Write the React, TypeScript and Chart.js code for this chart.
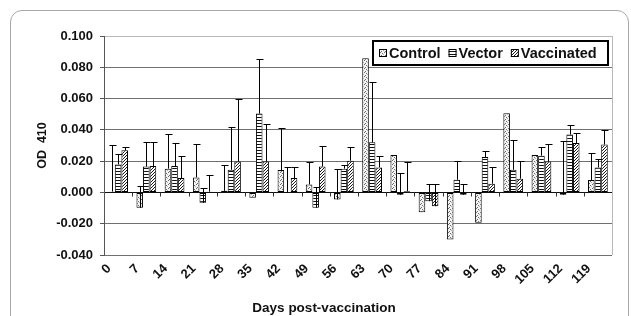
import React, { useEffect, useRef } from 'react';
import { Chart, registerables } from 'chart.js';

Chart.register(...registerables);

const days = ['0', '7', '14', '21', '28', '35', '42', '49', '56', '63', '70', '77', '84', '91', '98', '105', '112', '119'];

const seriesNames = ['Control', 'Vector', 'Vaccinated'];

const control = [0.0005, -0.0098, 0.0152, 0.0096, 0.001, -0.0034, 0.0143, 0.0051, -0.0045, 0.0857, 0.0239, -0.0126, -0.0301, -0.0194, 0.0506, 0.0239, -0.0015, 0.0079];
const controlErr = [0.0298, 0.0138, 0.0224, 0.0212, 0.0165, 0, 0.0272, 0.0143, 0.0192, 0, 0, 0, 0, 0, 0, 0, 0.0344, 0.0175];

const vector = [0.0179, 0.0165, 0.0169, -0.0066, 0.0145, 0.0504, -0.0003, -0.0098, 0.0152, 0.032, -0.0015, -0.0056, 0.0081, 0.0226, 0.0145, 0.0235, 0.037, 0.016];
const vectorErr = [0.0069, 0.0158, 0.0149, 0.0096, 0.0275, 0.0346, 0.0168, 0.0134, 0.0023, 0.0387, 0.0141, 0.0112, 0.0122, 0.0037, 0.019, 0.0058, 0.0064, 0.0054];

const vaccinated = [0.0269, 0.0169, 0.0092, 0.0005, 0.0197, 0.0197, 0.0092, 0.0165, 0.0203, 0.016, 0.0008, -0.0088, -0.0015, 0.0056, 0.0088, 0.0197, 0.0316, 0.0306];
const vaccinatedErr = [0.0024, 0.0154, 0.0139, 0.0104, 0.0403, 0.0239, 0.0068, 0.0132, 0.009, 0.0075, 0.0189, 0.0139, 0.0071, 0.0109, 0.0115, 0.0111, 0.0067, 0.0091];

const yTicksMin = -0.04;
const yTicksMax = 0.1;
const yTicksStep = 0.02;

const xTitle = 'Days post-vaccination';
const yTitle = 'OD  410';

const FONT = '"Liberation Sans", Arial, sans-serif';

function makePattern(kind: string): CanvasPattern | string {
  const c = document.createElement('canvas');
  const g = c.getContext('2d');
  if (!g) return '#ccc';
  if (kind === 'dots') {
    c.width = 4; c.height = 4;
    g.fillStyle = '#f4f4f4';
    g.fillRect(0, 0, 4, 4);
    g.fillStyle = '#6a6a6a';
    g.fillRect(0, 0, 1, 1);
    g.fillRect(2, 1, 1, 1);
    g.fillRect(1, 3, 1, 1);
    g.fillStyle = '#b0b0b0';
    g.fillRect(3, 2, 1, 1);
  } else if (kind === 'hlines') {
    c.width = 4; c.height = 3;
    g.fillStyle = '#ffffff';
    g.fillRect(0, 0, 4, 3);
    g.fillStyle = '#111111';
    g.fillRect(0, 0, 4, 1);
  } else {
    c.width = 3; c.height = 3;
    g.fillStyle = '#ffffff';
    g.fillRect(0, 0, 3, 3);
    g.fillStyle = '#1a1a1a';
    g.fillRect(2, 0, 1, 1);
    g.fillRect(1, 1, 1, 1);
    g.fillRect(0, 2, 1, 1);
  }
  const p = g.createPattern(c, 'repeat');
  return p || '#ccc';
}

const decorPlugin = {
  id: 'decor',
  afterDatasetsDraw(chart: any) {
    const { ctx, chartArea, scales } = chart;
    const ys = scales.y;
    const xs = scales.x;
    ctx.save();
    ctx.lineWidth = 1;
    // plot area right border
    ctx.strokeStyle = '#b8b8b8';
    const rx = Math.round(chartArea.right) + 0.5;
    ctx.beginPath();
    ctx.moveTo(rx, chartArea.top);
    ctx.lineTo(rx, chartArea.bottom);
    ctx.stroke();
    // category tick marks on zero line
    const y0 = Math.round(ys.getPixelForValue(0)) + 0.5;
    ctx.strokeStyle = '#333';
    for (let i = 1; i < chart.data.labels.length; i++) {
      const xb = Math.round((xs.getPixelForValue(i - 1) + xs.getPixelForValue(i)) / 2) + 0.5;
      ctx.beginPath();
      ctx.moveTo(xb, y0);
      ctx.lineTo(xb, y0 + 4);
      ctx.stroke();
    }
    // error bars
    ctx.strokeStyle = '#000';
    chart.data.datasets.forEach((ds: any, di: number) => {
      const meta = chart.getDatasetMeta(di);
      const errs: number[] = ds.errorBars || [];
      meta.data.forEach((bar: any, i: number) => {
        const e = errs[i];
        if (!e) return;
        const v = ds.data[i];
        const px = Math.round(bar.x) + 0.5;
        const yTop = Math.round(ys.getPixelForValue(v + e)) + 0.5;
        const yBase = ys.getPixelForValue(v);
        ctx.beginPath();
        ctx.moveTo(px, yBase);
        ctx.lineTo(px, yTop);
        ctx.moveTo(px - 3, yTop);
        ctx.lineTo(px + 4, yTop);
        ctx.stroke();
      });
    });
    ctx.restore();
  },
  afterDraw(chart: any) {
    const { ctx, chartArea } = chart;
    ctx.save();
    // legend
    const boxR = chartArea.right - 4;
    const boxL = boxR - 235;
    const boxT = chartArea.top + 5;
    const boxH = 24;
    ctx.fillStyle = '#fff';
    ctx.fillRect(boxL, boxT, boxR - boxL, boxH);
    ctx.strokeStyle = '#000';
    ctx.lineWidth = 2;
    ctx.strokeRect(boxL, boxT, boxR - boxL, boxH);
    ctx.font = 'bold 14.5px ' + FONT;
    ctx.textBaseline = 'middle';
    ctx.textAlign = 'left';
    let cx = boxL + 6;
    const cy = boxT + boxH / 2;
    chart.data.datasets.forEach((ds: any) => {
      ctx.fillStyle = ds.backgroundColor;
      ctx.fillRect(cx, cy - 4, 8, 8);
      ctx.lineWidth = 1;
      ctx.strokeStyle = '#000';
      ctx.strokeRect(cx + 0.5, cy - 3.5, 7, 7);
      cx += 10;
      ctx.fillStyle = '#111';
      ctx.fillText(ds.label, cx, cy + 1);
      cx += ctx.measureText(ds.label).width + 8;
    });
    // x-axis title
    ctx.font = 'bold 13.5px ' + FONT;
    ctx.textAlign = 'center';
    ctx.fillStyle = '#111';
    ctx.fillText(xTitle, 324, 308);
    ctx.restore();
  },
};

export default function App() {
  const ref = useRef<HTMLCanvasElement | null>(null);

  useEffect(() => {
    if (!ref.current) return;
    const patterns = [makePattern('dots'), makePattern('hlines'), makePattern('diag')];
    const values = [control, vector, vaccinated];
    const errs = [controlErr, vectorErr, vaccinatedErr];
    const chart = new Chart(ref.current, {
      type: 'bar',
      data: {
        labels: days,
        datasets: seriesNames.map((name, i) => ({
          label: name,
          data: values[i],
          errorBars: errs[i],
          backgroundColor: patterns[i],
          borderColor: '#000',
          borderWidth: 1,
          borderSkipped: false,
          barPercentage: 1,
          categoryPercentage: 0.7,
        })) as any,
      },
      options: {
        responsive: false,
        animation: false,
        layout: { padding: { left: 16, right: 19, top: 36, bottom: 0 } },
        plugins: {
          legend: { display: false },
          tooltip: { enabled: false },
          title: { display: false },
        },
        scales: {
          x: {
            grid: { display: false, drawTicks: false },
            border: { display: false },
            ticks: {
              autoSkip: false,
              maxRotation: 45,
              minRotation: 45,
              padding: 6,
              labelOffset: -9,
              color: '#111',
              font: { family: FONT, size: 13, weight: 'bold' },
            },
            afterFit: (scale: any) => {
              scale.height = 61;
            },
          },
          y: {
            min: yTicksMin,
            max: yTicksMax,
            ticks: {
              stepSize: yTicksStep,
              padding: 7,
              color: '#111',
              font: { family: FONT, size: 13, weight: 'bold' },
              callback: (v: any) => Number(v).toFixed(3),
            },
            grid: {
              color: (c: any) => {
                const v = c.tick ? c.tick.value : 0;
                if (Math.abs(v) < 1e-9) return '#111';
                if (v > 0.099) return '#b8b8b8';
                return '#707070';
              },
              lineWidth: 1,
              tickLength: 4,
              tickColor: '#555',
            },
            border: { display: true, color: '#555', width: 1 },
            title: {
              display: true,
              text: yTitle,
              color: '#111',
              font: { family: FONT, size: 12.5, weight: 'bold' },
              padding: { top: 19, bottom: 0 },
            },
            afterFit: (scale: any) => {
              scale.width = 88;
            },
          },
        },
      } as any,
      plugins: [decorPlugin],
    });
    return () => chart.destroy();
  }, []);

  return (
    <div style={{ position: 'absolute', left: 0, top: 0, width: 631, height: 316, overflow: 'hidden', background: '#fff' }}>
      <div
        style={{
          position: 'absolute',
          left: 10,
          top: 10,
          width: 619,
          height: 340,
          border: '1px solid #a8a8a8',
          borderRadius: 12,
          boxSizing: 'border-box',
        }}
      />
      <canvas ref={ref} width={631} height={316} style={{ position: 'absolute', left: 0, top: 0, display: 'block' }} />
    </div>
  );
}
